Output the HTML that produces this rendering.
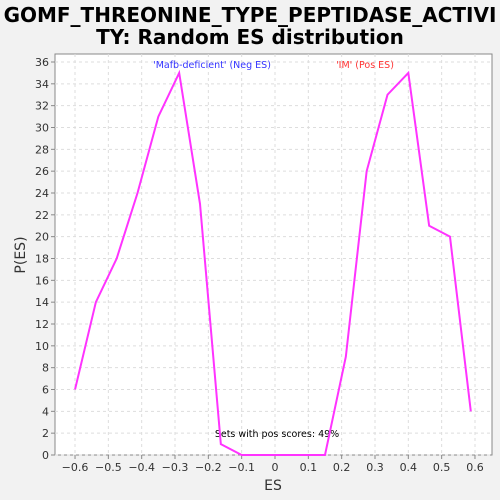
<!DOCTYPE html>
<html><head><meta charset="utf-8"><style>
body{margin:0;background:#f2f2f2;}
svg{display:block;font-family:"DejaVu Sans","Liberation Sans",sans-serif;}
</style></head><body>
<svg id="c" width="500" height="500">
<rect width="500" height="500" fill="#f2f2f2"/>
<text x="250" y="22" text-anchor="middle" font-size="20" font-weight="bold" fill="#000">GOMF_THREONINE_TYPE_PEPTIDASE_ACTIVI</text>
<text x="250" y="44" text-anchor="middle" font-size="20" font-weight="bold" fill="#000">TY: Random ES distribution</text>
<rect x="55" y="54" width="437" height="401" fill="#fff" stroke="#888"/>
<g id="grid"></g><g id="ticks"></g>
<text x="273" y="490" text-anchor="middle" font-size="14" fill="#333">ES</text>
<text x="25" y="255" text-anchor="middle" font-size="14" fill="#333" transform="rotate(-90 25 255)">P(ES)</text>
<text x="212" y="68" text-anchor="middle" font-size="9.5" fill="#3333ff">'Mafb-deficient' (Neg ES)</text>
<text x="365" y="68" text-anchor="middle" font-size="9.5" fill="#ff3333">'IM' (Pos ES)</text>
<text x="277" y="437" text-anchor="middle" font-size="9.5" fill="#000">Sets with pos scores: 49%</text>
<polyline id="line" fill="none" stroke="#ff33ff" stroke-width="2"/>
</svg>
<script>
const xs=[-0.6,-0.5375,-0.475,-0.4125,-0.35,-0.2875,-0.225,-0.1625,-0.1,-0.0375,0.025,0.0875,0.15,0.2125,0.275,0.3375,0.4,0.4625,0.525,0.5875];
const ys=[6,14,18,24,31,35,23,1,0,0,0,0,0,9,26,33,35,21,20,4];
const xTicks=[-0.6,-0.5,-0.4,-0.3,-0.2,-0.1,0,0.1,0.2,0.3,0.4,0.5,0.6];
const yTicks=[0,2,4,6,8,10,12,14,16,18,20,22,24,26,28,30,32,34,36];
const X=v=>275+v*333.3, Y=v=>455-v*10.917;
const ns="http://www.w3.org/2000/svg";
const g=document.getElementById('grid'),t=document.getElementById('ticks');
function mk(tag,a,p){const e=document.createElementNS(ns,tag);for(const k in a)e.setAttribute(k,a[k]);p.appendChild(e);return e;}
xTicks.forEach(v=>{
 const l=mk('line',{x1:X(v),x2:X(v),y1:54,y2:455,stroke:'#ddd','stroke-dasharray':'3,3'},g);
 
 
 mk('line',{x1:X(v),x2:X(v),y1:455,y2:459,stroke:'#888'},t);
 const tx=mk('text',{x:X(v),y:471,'text-anchor':'middle','font-size':11,fill:'#333'},t);
 tx.textContent=(Math.abs(v)<1e-9?0:v).toString().replace('-','\u2212');
 
 
});
yTicks.forEach(v=>{
 const l=mk('line',{x1:55,x2:492,y1:Y(v),y2:Y(v),stroke:'#ddd','stroke-dasharray':'3,3'},g);
 
 
 mk('line',{x1:51,x2:55,y1:Y(v),y2:Y(v),stroke:'#888'},t);
 const tx=mk('text',{x:49,y:Y(v)+4,'text-anchor':'end','font-size':11,fill:'#333'},t);
 tx.textContent=v;
 
 
});
document.getElementById('line').setAttribute('points',xs.map((x,i)=>X(x)+','+Y(ys[i])).join(' '));
</script>
</body></html>
